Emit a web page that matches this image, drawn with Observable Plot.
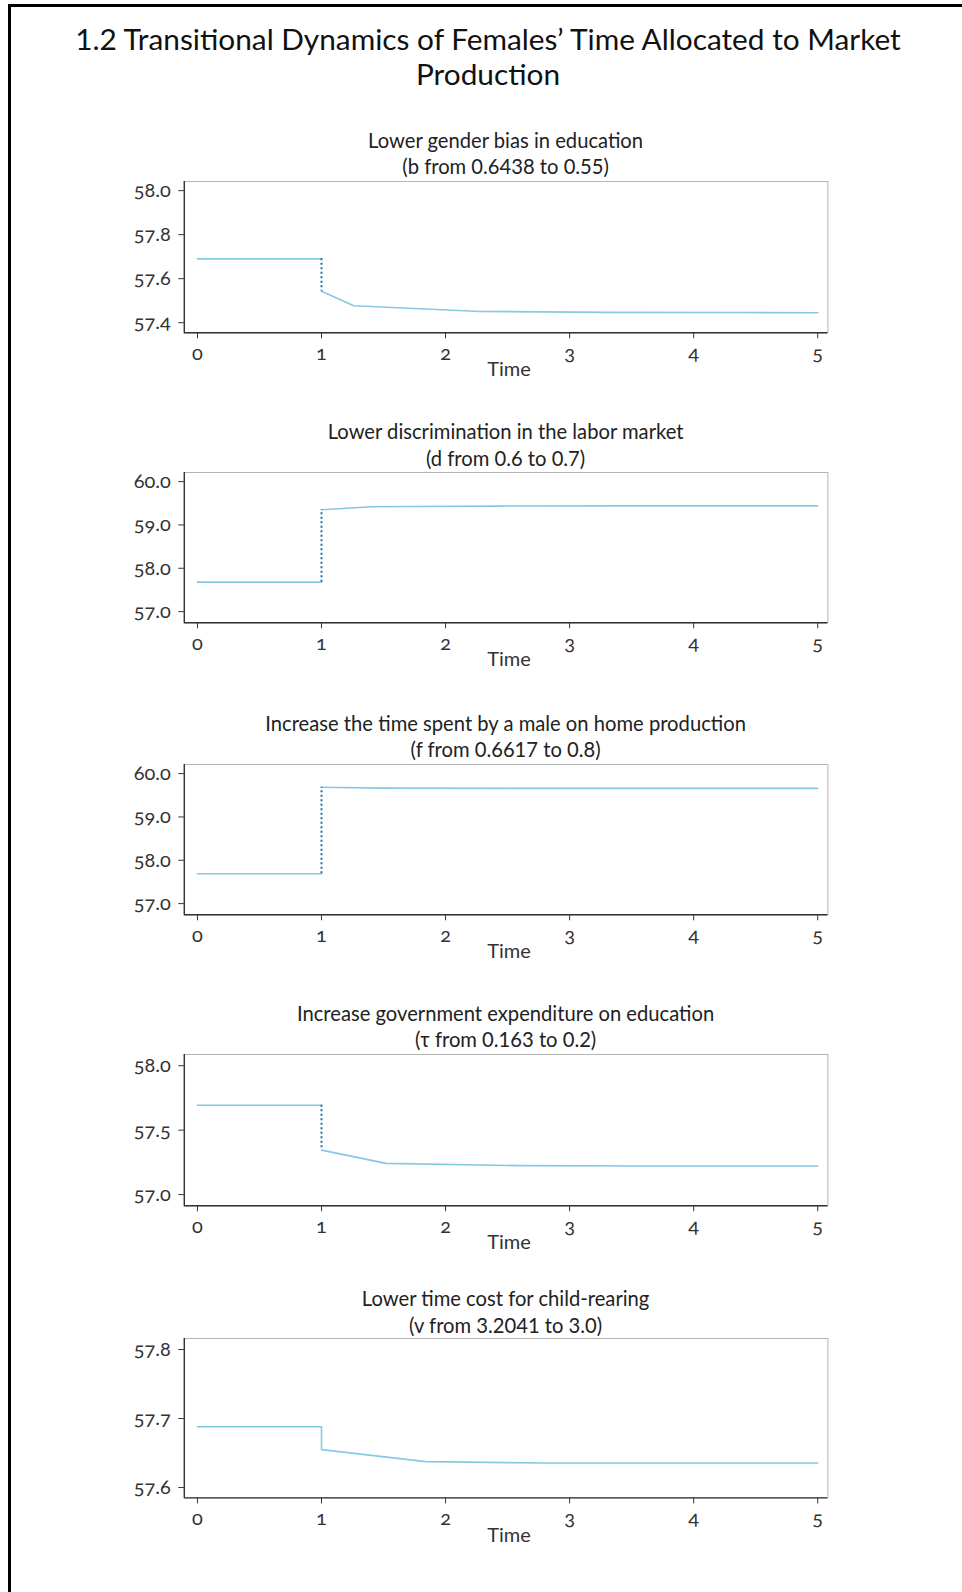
<!DOCTYPE html>
<html>
<head>
<meta charset="utf-8">
<script src="https://cdn.jsdelivr.net/npm/d3@7"></script>
<script src="https://cdn.jsdelivr.net/npm/@observablehq/plot@0.6"></script>
<style>
  html, body { margin: 0; padding: 0; background: #fff; overflow: hidden; }
  body { width: 962px; height: 1592px; position: relative; font-family: Lato, "Open Sans", sans-serif; color: #222; }
  #page { position: absolute; left: 8px; top: 4px; width: 951px; height: 1585px; border-left: 3px solid #000; border-top: 3px solid #000; }
  #title { position: absolute; left: 0; width: 976px; top: 22px; text-align: center; font-size: 29.8px; line-height: 34.5px; color: #111; }
  .ptitle { position: absolute; width: 700px; text-align: center; font-size: 20.2px; line-height: 26.4px; color: #222; }
  .xlabel { position: absolute; width: 200px; text-align: center; font-size: 20px; line-height: 24px; color: #333; }
  .panel { position: absolute; left: 0; width: 962px; }
  .panel svg { display: block; }
  .panel svg text { font-variant-numeric: oldstyle-nums !important; font-feature-settings: "onum" 1; }
</style>
</head>
<body>
<div id="page"></div>
<div id="title">1.2 Transitional Dynamics of Females’ Time Allocated to Market<br>Production</div>
<div id="charts"></div>
<script>
// ---- data ----
const titles = [
  "Lower gender bias in education",
  "Lower discrimination in the labor market",
  "Increase the time spent by a male on home production",
  "Increase government expenditure on education",
  "Lower time cost for child-rearing"
];
const subtitles = [
  "(b from 0.6438 to 0.55)",
  "(d from 0.6 to 0.7)",
  "(f from 0.6617 to 0.8)",
  "(τ from 0.163 to 0.2)",
  "(v from 3.2041 to 3.0)"
];
const xLabel = "Time";
const xTicks = [0, 1, 2, 3, 4, 5];
const xDomain = [-0.106, 5.082];

// time points, values, and segment id (0 = before shock, 1 = after shock)
const t1 = [0, 1, 1, 1.26, 2.28, 3.3, 4.3, 5];
const v1 = [57.690, 57.690, 57.543, 57.477, 57.451, 57.447, 57.446, 57.445];
const s1 = [0, 0, 1, 1, 1, 1, 1, 1];

const t2 = [0, 1, 1, 1.4, 2.4, 3.4, 5];
const v2 = [57.68, 57.68, 59.35, 59.42, 59.435, 59.44, 59.44];
const s2 = [0, 0, 1, 1, 1, 1, 1];

const t3 = [0, 1, 1, 1.5, 2.5, 5];
const v3 = [57.69, 57.69, 59.685, 59.665, 59.66, 59.66];
const s3 = [0, 0, 1, 1, 1, 1];

const t4 = [0, 1, 1, 1.52, 2.6, 3.6, 5];
const v4 = [57.693, 57.693, 57.345, 57.242, 57.225, 57.222, 57.222];
const s4 = [0, 0, 1, 1, 1, 1, 1];

const t5 = [0, 1, 1, 1.84, 2.8, 5];
const v5 = [57.688, 57.688, 57.655, 57.6375, 57.6355, 57.6355];
const s5 = [0, 0, 0, 0, 0, 0];

const yTicks = [
  [57.4, 57.6, 57.8, 58.0],
  [57, 58, 59, 60],
  [57, 58, 59, 60],
  [57, 57.5, 58],
  [57.6, 57.7, 57.8]
];
const yDomains = [
  [57.354, 58.0415],
  [56.742, 60.21],
  [56.742, 60.21],
  [56.913, 58.087],
  [57.585, 57.816]
];
const dottedJump = [true, true, true, true, false];

// ---- layout ----
const times = [t1, t2, t3, t4, t5];
const values = [v1, v2, v3, v4, v5];
const segs = [s1, s2, s3, s4, s5];
const frameTop = [180.7, 472.1, 763.5, 1053.8, 1338.1];
const frameH = [151.3, 150.3, 150.3, 151.3, 159.4];
const titleTop = [126.9, 418.3, 709.6, 1000, 1285.3];

const W = 962, mL = 183.8, mR = 134.6, mT = 4, mB = 36;
const centerX = (mL + W - mR) / 2;
const lineColor = "#86c8e5";
const jumpColor = "#1f72aa";
const axisColor = "#333";

const charts = document.getElementById("charts");

for (let i = 0; i < 5; i++) {
  const data = times[i].map((t, j) => ({t, v: values[i][j], s: segs[i][j]}));
  const jump = dottedJump[i] ? [{t: times[i][1], y1: values[i][1], y2: values[i][2]}] : [];

  const tdiv = document.createElement("div");
  tdiv.className = "ptitle";
  tdiv.style.top = titleTop[i] + "px";
  tdiv.style.left = (centerX - 350) + "px";
  tdiv.innerHTML = titles[i] + "<br>" + subtitles[i];
  charts.appendChild(tdiv);

  const plot = Plot.plot({
    width: W,
    height: mT + frameH[i] + mB,
    marginLeft: mL,
    marginRight: mR,
    marginTop: mT,
    marginBottom: mB,
    style: {fontFamily: "Lato, 'Open Sans', sans-serif", fontSize: "20px", color: axisColor, background: "transparent"},
    x: {domain: xDomain},
    y: {domain: yDomains[i]},
    marks: [
      Plot.frame({stroke: "#b5b5b5", strokeWidth: 1}),
      Plot.ruleY([yDomains[i][0]], {stroke: axisColor, strokeWidth: 1.4}),
      Plot.ruleX([xDomain[0]], {stroke: axisColor, strokeWidth: 1.4}),
      Plot.line(data, {x: "t", y: "v", z: "s", stroke: lineColor, strokeWidth: 1.6}),
      Plot.ruleX(jump, {x: "t", y1: "y1", y2: "y2", stroke: jumpColor, strokeWidth: 2, strokeDasharray: "2,2.5"}),
      Plot.axisX({ticks: xTicks, tickSize: 6, tickPadding: 7, tickFormat: d3.format("d"), fontSize: 20, label: null}),
      Plot.axisY({ticks: yTicks[i], tickSize: 5.5, tickPadding: 8, tickFormat: d3.format(".1f"), fontSize: 20, label: null})
    ]
  });
  const wrap = document.createElement("div");
  wrap.className = "panel";
  wrap.style.top = (frameTop[i] - mT) + "px";
  wrap.appendChild(plot);
  charts.appendChild(wrap);

  const xl = document.createElement("div");
  xl.className = "xlabel";
  xl.textContent = xLabel;
  xl.style.left = (centerX + 3.5 - 100) + "px";
  xl.style.top = (frameTop[i] + frameH[i] + 36 - 12) + "px";
  charts.appendChild(xl);
}
</script>
</body>
</html>
